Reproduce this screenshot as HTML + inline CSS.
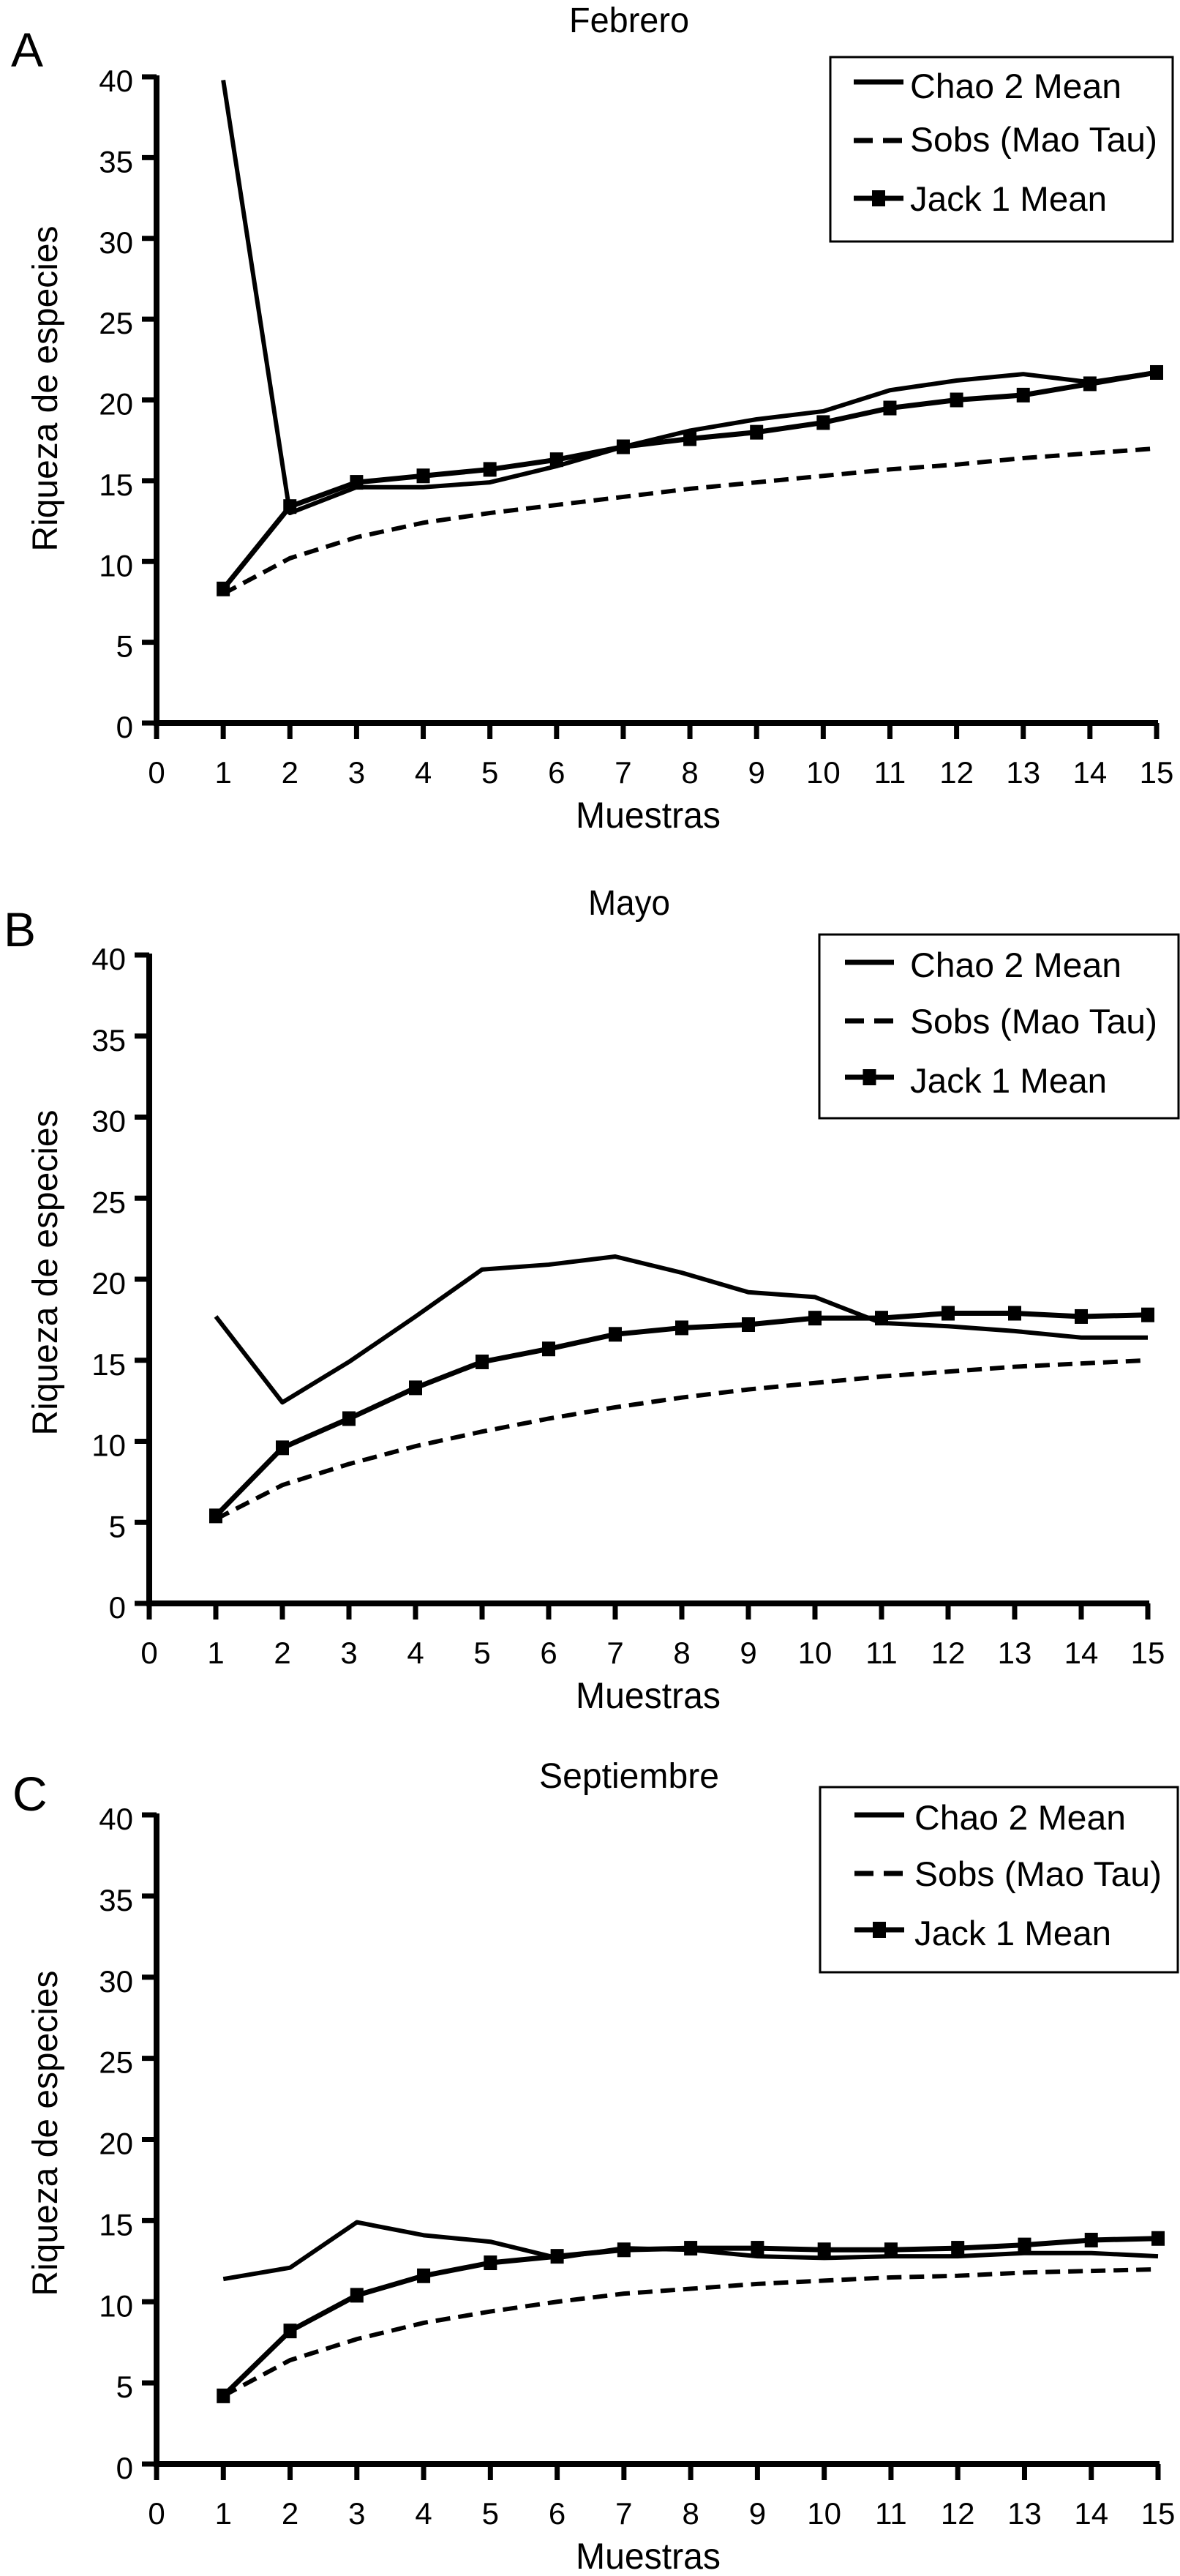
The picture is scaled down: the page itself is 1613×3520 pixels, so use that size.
<!DOCTYPE html>
<html><head><meta charset="utf-8"><style>
html,body{margin:0;padding:0;background:#fff;}
svg{display:block;}
text{font-family:"Liberation Sans",sans-serif;fill:#000;}
</style></head><body>
<svg id="fig" width="1613" height="3520" viewBox="0 0 1613 3520" xmlns="http://www.w3.org/2000/svg"></svg>
<script>
// ---- data ----
const samples = [1,2,3,4,5,6,7,8,9,10,11,12,13,14,15];
const xTickLabels = ["0","1","2","3","4","5","6","7","8","9","10","11","12","13","14","15"];
const yTickLabels = ["0","5","10","15","20","25","30","35","40"];
const panelTitles = ["Febrero","Mayo","Septiembre"];
const panelLetters = ["A","B","C"];
const legendLabels = ["Chao 2 Mean","Sobs (Mao Tau)","Jack 1 Mean"];

const chaoFeb = [39.8,13.0,14.6,14.6,14.9,15.9,17.1,18.1,18.8,19.3,20.6,21.2,21.6,21.1,21.7];
const jackFeb = [8.3,13.4,14.9,15.3,15.7,16.3,17.1,17.6,18.0,18.6,19.5,20.0,20.3,21.0,21.7];
const sobsFeb = [8.0,10.2,11.5,12.4,13.0,13.5,14.0,14.5,14.9,15.3,15.7,16.0,16.4,16.7,17.0];

const chaoMay = [17.7,12.4,14.9,17.7,20.6,20.9,21.4,20.4,19.2,18.9,17.3,17.1,16.8,16.4,16.4];
const jackMay = [5.4,9.6,11.4,13.3,14.9,15.7,16.6,17.0,17.2,17.6,17.6,17.9,17.9,17.7,17.8];
const sobsMay = [5.2,7.3,8.6,9.7,10.6,11.4,12.1,12.7,13.2,13.6,14.0,14.3,14.6,14.8,15.0];

const chaoSep = [11.4,12.1,14.9,14.1,13.7,12.7,13.3,13.2,12.8,12.7,12.8,12.8,13.0,13.0,12.8];
const jackSep = [4.2,8.2,10.4,11.6,12.4,12.8,13.2,13.3,13.3,13.2,13.2,13.3,13.5,13.8,13.9];
const sobsSep = [4.2,6.4,7.7,8.7,9.4,10.0,10.5,10.8,11.1,11.3,11.5,11.6,11.8,11.9,12.0];

const seriesByPanel = [[chaoFeb,sobsFeb,jackFeb],[chaoMay,sobsMay,jackMay],[chaoSep,sobsSep,jackSep]];

// ---- layout (pixels) ----
const layouts = [
 {x0:214,x15:1581,y0:988,y40:105,titleY:44,letterX:15,letterY:91,ytY:531,
  leg:{x:1135,y:78,w:468,h:252,tx:1244,base:[134,207,288],mid:[112,192,271],sx:1167,ex:1235},muY:1131},
 {x0:204,x15:1569,y0:2191,y40:1305,titleY:1250,letterX:5,letterY:1293,ytY:1739,
  leg:{x:1120,y:1277,w:491,h:251,tx:1244,base:[1335,1412,1493],mid:[1315,1395,1472],sx:1155,ex:1222},muY:2334},
 {x0:214,x15:1583,y0:3367,y40:2480,titleY:2443,letterX:17,letterY:2474,ytY:2915,
  leg:{x:1121,y:2442,w:489,h:253,tx:1250,base:[2500,2577,2658],mid:[2480,2560,2637],sx:1168,ex:1236},muY:3510}
];
const titleWidths = [164,112,246];

const NS = "http://www.w3.org/2000/svg";
const svg = document.getElementById('fig');
function mk(tag, attrs, parent){
  const e = document.createElementNS(NS, tag);
  for (const k in attrs) e.setAttribute(k, attrs[k]);
  (parent||svg).appendChild(e);
  return e;
}

layouts.forEach((L, p) => {
  const g = mk('g', {});
  
  
  const xs = v => L.x0 + (L.x15 - L.x0) * v / 15;
  const ys = v => L.y0 - (L.y0 - L.y40) * v / 40;

  const t = mk('text', {x:860, y:L.titleY, 'font-size':48, 'text-anchor':'middle', textLength:titleWidths[p], lengthAdjust:'spacingAndGlyphs'}, g);
  t.textContent = panelTitles[p];
  
  
  const lt = mk('text', {x:L.letterX, y:L.letterY, 'font-size':66}, g);
  lt.textContent = panelLetters[p];
  
  

  const ax = mk('path', {d:`M${L.x0},${L.y40-2} V${L.y0} H${L.x15+2}`, fill:'none', stroke:'#000', 'stroke-width':8}, g);
  
  
  yTickLabels.forEach((lab, i) => {
    const v = i * 5, y = ys(v);
    const tk = mk('line', {x1:L.x0-20, x2:L.x0, y1:y, y2:y, stroke:'#000', 'stroke-width':7}, g);
    
    
    const tl = mk('text', {x:L.x0-32, y:y+20, 'font-size':42, 'text-anchor':'end'}, g);
    tl.textContent = lab;
    
    
  });
  xTickLabels.forEach((lab, i) => {
    const x = xs(i);
    const tk = mk('line', {x1:x, x2:x, y1:L.y0, y2:L.y0+22, stroke:'#000', 'stroke-width':7}, g);
    
    
    const tl = mk('text', {x:x, y:L.y0+82, 'font-size':42, 'text-anchor':'middle'}, g);
    tl.textContent = lab;
    
    
  });
  const xt = mk('text', {x:886, y:L.muY, 'font-size':50, 'text-anchor':'middle', textLength:198, lengthAdjust:'spacingAndGlyphs'}, g);
  xt.textContent = 'Muestras';
  
  
  const yt = mk('text', {x:0, y:0, 'font-size':48, 'text-anchor':'middle', textLength:445, lengthAdjust:'spacingAndGlyphs',
    transform:`translate(78,${L.ytY}) rotate(-90)`}, g);
  yt.textContent = 'Riqueza de especies';
  
  

  const [chao, sobs, jack] = seriesByPanel[p];
  const pts = arr => samples.map((s, i) => xs(s) + ',' + ys(arr[i])).join(' ');
  const sl = mk('polyline', {points:pts(sobs), fill:'none', stroke:'#000', 'stroke-width':6, 'stroke-dasharray':'20 11'}, g);
  
  
  const cl = mk('polyline', {points:pts(chao), fill:'none', stroke:'#000', 'stroke-width':6, 'stroke-linejoin':'round'}, g);
  
  
  const jl = mk('polyline', {points:pts(jack), fill:'none', stroke:'#000', 'stroke-width':7, 'stroke-linejoin':'round'}, g);
  
  
  samples.forEach((s, i) => {
    const m = mk('rect', {x:xs(s)-9, y:ys(jack[i])-10, width:18, height:20, fill:'#000'}, g);
    
    
  });

  const lg = mk('g', {}, g);
  
  
  const Lg = L.leg;
  mk('rect', {x:Lg.x, y:Lg.y, width:Lg.w, height:Lg.h, fill:'#fff', stroke:'#000', 'stroke-width':3}, lg);
  const widths = [289, 338, 269];
  legendLabels.forEach((lab, i) => {
    const e = mk('g', {}, lg);
    
    
    const ln = mk('line', {x1:Lg.sx, x2:Lg.ex, y1:Lg.mid[i], y2:Lg.mid[i], stroke:'#000', 'stroke-width':7}, e);
    if (i === 1) ln.setAttribute('stroke-dasharray', '26 14');
    if (i === 2) mk('rect', {x:(Lg.sx+Lg.ex)/2-9, y:Lg.mid[i]-11, width:18, height:22, fill:'#000'}, e);
    const tx = mk('text', {x:Lg.tx, y:Lg.base[i], 'font-size':47, textLength:widths[i], lengthAdjust:'spacingAndGlyphs'}, e);
    tx.textContent = lab;
  });
});
</script>
</body></html>
